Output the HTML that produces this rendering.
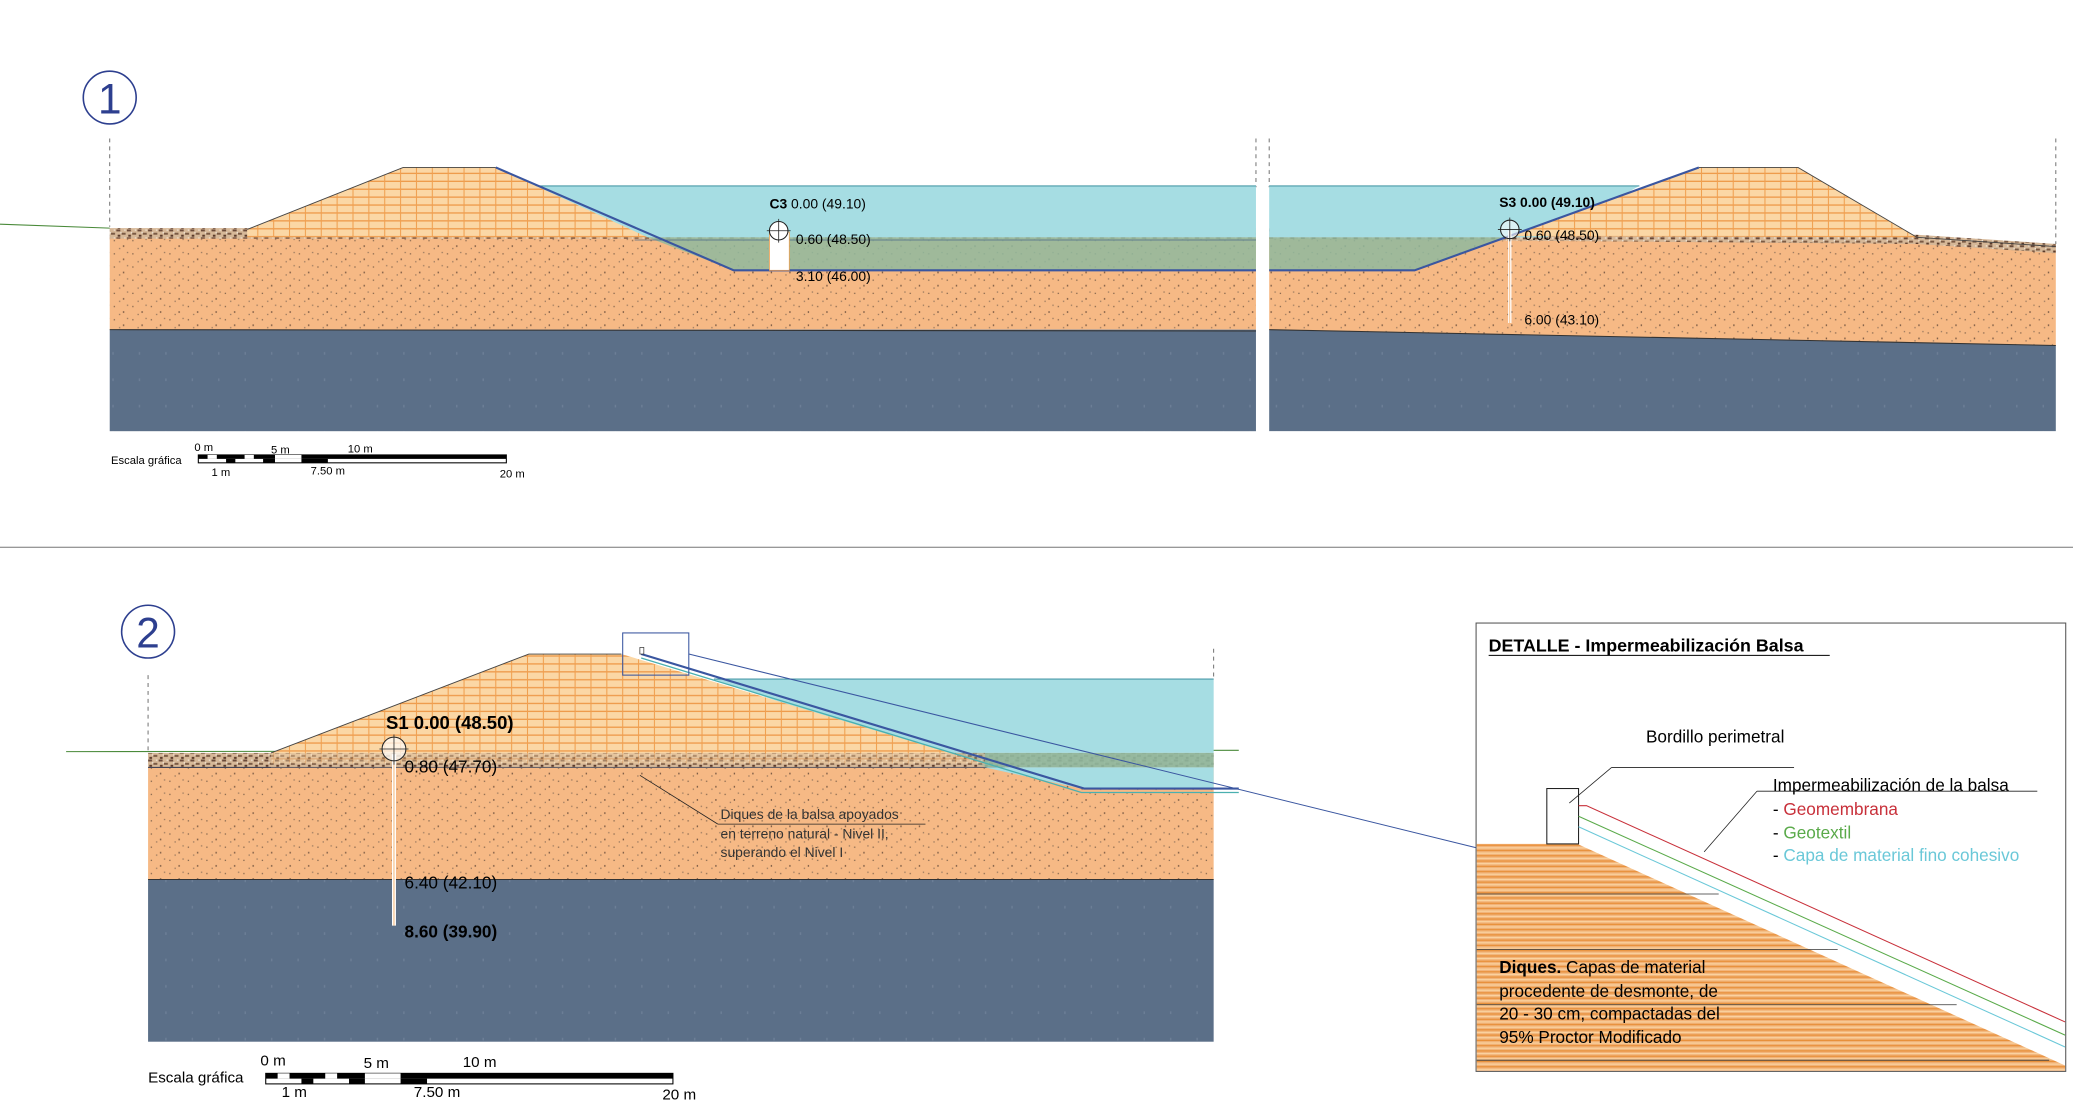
<!DOCTYPE html>
<html><head><meta charset="utf-8"><style>
html,body{margin:0;padding:0;background:#fff;}
svg{display:block;}
text{font-family:"Liberation Sans",sans-serif;}
</style></head><body>
<svg width="2073" height="1105" viewBox="0 0 1568 838" preserveAspectRatio="none" xmlns="http://www.w3.org/2000/svg">
<defs>
<pattern id="soil" width="14" height="10" patternUnits="userSpaceOnUse">
<rect width="14" height="10" fill="#f6b985"/>
<rect x="2" y="2" width="1" height="1" fill="#8a6a50"/>
<rect x="9" y="6" width="1" height="1.3" fill="#7a5a44"/>
<rect x="6" y="8" width="1" height="1" fill="#9a7a60"/>
<rect x="12" y="1" width="1" height="1" fill="#9a7a60"/>
</pattern>
<pattern id="dike" width="12" height="6" patternUnits="userSpaceOnUse">
<rect width="12" height="6" fill="#fbd7a5"/>
<line x1="0" y1="5.5" x2="12" y2="5.5" stroke="#ee9a4a" stroke-width="1"/>
<line x1="3" y1="0" x2="3" y2="6" stroke="#f0a050" stroke-width="0.8"/>
</pattern>
<pattern id="dike2" width="8" height="4" patternUnits="userSpaceOnUse">
<rect width="8" height="4" fill="#f2b47a"/>
<line x1="0" y1="1" x2="8" y2="1" stroke="#e8903a" stroke-width="1"/>
<line x1="0" y1="3" x2="8" y2="3" stroke="#fbd7a5" stroke-width="0.8"/>
</pattern>
<pattern id="grav" width="8" height="6" patternUnits="userSpaceOnUse">
<rect width="8" height="6" fill="#d6b898"/>
<rect x="0" y="0" width="3" height="1.5" fill="#6a4a3a"/>
<rect x="4" y="2.5" width="3" height="1.5" fill="#7a5a44"/>
<rect x="1" y="4" width="2" height="1.5" fill="#5a3a2a"/>
<rect x="6" y="0" width="1" height="1" fill="#f0e6da"/>
<rect x="3" y="2" width="1" height="1" fill="#f0e6da"/>
</pattern>
<pattern id="dark" width="20" height="20" patternUnits="userSpaceOnUse">
<rect width="20" height="20" fill="#5b6f88"/>
<rect x="5" y="7" width="1" height="2" fill="#6e8098"/>
</pattern>
</defs>

<!-- ===== Panel 1 ===== -->
<circle cx="83" cy="74" r="20" fill="#fff" stroke="#2d3f8f" stroke-width="1.2"/>
<text x="83" y="86" font-size="32" fill="#2d3f8f" text-anchor="middle">1</text>
<line x1="83" y1="105" x2="83" y2="172" stroke="#666" stroke-dasharray="3,3" stroke-width="0.7"/>
<line x1="950" y1="105" x2="950" y2="142" stroke="#666" stroke-dasharray="3,3" stroke-width="0.7"/>
<line x1="960" y1="105" x2="960" y2="142" stroke="#666" stroke-dasharray="3,3" stroke-width="0.7"/>
<line x1="1555" y1="105" x2="1555" y2="185" stroke="#666" stroke-dasharray="3,3" stroke-width="0.7"/>
<line x1="0" y1="170" x2="83" y2="173" stroke="#4a8a3a" stroke-width="0.8"/>

<rect x="83" y="180" width="867" height="70" fill="url(#soil)"/>
<rect x="83" y="250" width="867" height="77" fill="url(#dark)"/>
<rect x="83" y="173" width="867" height="8" fill="url(#grav)"/>
<line x1="83" y1="250" x2="950" y2="251" stroke="#333" stroke-width="0.8"/>
<polygon points="400,141 950,141 950,180 480,180" fill="#a6dde3"/>
<line x1="400" y1="141" x2="950" y2="141" stroke="#4a9aa8" stroke-width="0.8"/>
<polygon points="490,180 950,180 950,205 555,205" fill="#8fb89e" opacity="0.85"/>
<line x1="480" y1="182" x2="950" y2="182" stroke="#4a6a8a" stroke-width="0.6"/>
<polygon points="187,174 305,127 375,127 490,180 187,180" fill="url(#dike)"/>
<polyline points="187,174 305,127 375,127" fill="none" stroke="#444" stroke-width="0.7"/>
<polyline points="375,127 555,205 950,205" fill="none" stroke="#3a56a0" stroke-width="1.6"/>
<rect x="582" y="176" width="15" height="29" fill="#fff" stroke="#f0a050" stroke-width="0.6"/>
<circle cx="589" cy="175" r="7" fill="#fff" stroke="#222" stroke-width="0.8"/>
<line x1="589" y1="166" x2="589" y2="184" stroke="#222" stroke-width="0.6"/>
<line x1="580" y1="175" x2="598" y2="175" stroke="#222" stroke-width="0.6"/>
<text x="582" y="158" font-size="10.5"><tspan font-weight="bold">C3</tspan> 0.00 (49.10)</text>
<text x="602" y="185" font-size="10.5">0.60 (48.50)</text>
<text x="602" y="213" font-size="10.5">3.10 (46.00)</text>

<polygon points="960,180 1555,185 1555,262 960,250" fill="url(#soil)"/>
<polygon points="960,250 1555,262 1555,327 960,327" fill="url(#dark)"/>
<polygon points="960,173 1450,178 1555,185 1555,192 1450,185 960,181" fill="url(#grav)"/>
<line x1="960" y1="250" x2="1555" y2="262" stroke="#333" stroke-width="0.8"/>
<polygon points="960,141 1240,141 1170,180 960,180" fill="#a6dde3"/>
<line x1="960" y1="141" x2="1240" y2="141" stroke="#4a9aa8" stroke-width="0.8"/>
<polygon points="960,180 1140,180 1070,205 960,205" fill="#8fb89e" opacity="0.85"/>
<polygon points="1140,179 1285,127 1360,127 1450,180" fill="url(#dike)"/>
<polyline points="1285,127 1360,127 1450,180 1555,187" fill="none" stroke="#444" stroke-width="0.7"/>
<polyline points="960,205 1070,205 1285,127" fill="none" stroke="#3a56a0" stroke-width="1.6"/>
<line x1="1142" y1="175" x2="1142" y2="245" stroke="#fff" stroke-width="2.5"/>
<line x1="1142" y1="175" x2="1142" y2="245" stroke="#f0a050" stroke-width="0.5"/>
<circle cx="1142" cy="174" r="7" fill="#fff" fill-opacity="0.6" stroke="#222" stroke-width="0.8"/>
<line x1="1142" y1="165" x2="1142" y2="183" stroke="#222" stroke-width="0.6"/>
<line x1="1133" y1="174" x2="1151" y2="174" stroke="#222" stroke-width="0.6"/>
<text x="1134" y="157" font-size="10.5" font-weight="bold">S3 0.00 (49.10)</text>
<text x="1153" y="182" font-size="10.5">0.60 (48.50)</text>
<text x="1153" y="246" font-size="10.5">6.00 (43.10)</text>

<text x="84" y="352" font-size="8.5">Escala gráfica</text>
<text x="147" y="342" font-size="8.5">0 m</text>
<text x="205" y="344" font-size="8.5">5 m</text>
<text x="263" y="343" font-size="8.5">10 m</text>
<text x="160" y="361" font-size="8.5">1 m</text>
<text x="235" y="360" font-size="8.5">7.50 m</text>
<text x="378" y="362" font-size="8.5">20 m</text>
<rect x="150" y="345" width="233" height="6" fill="#fff" stroke="#000" stroke-width="0.8"/>
<rect x="150" y="345" width="233" height="3" fill="#000"/>
<rect x="157" y="345" width="7" height="3" fill="#fff"/><rect x="171" y="348" width="7" height="3" fill="#000"/>
<rect x="185" y="345" width="7" height="3" fill="#fff"/><rect x="199" y="348" width="9" height="3" fill="#000"/>
<rect x="208" y="345" width="20" height="3" fill="#fff"/><rect x="228" y="348" width="20" height="3" fill="#000"/>

<line x1="0" y1="415" x2="1568" y2="415" stroke="#777" stroke-width="0.8"/>

<!-- ===== Panel 2 ===== -->
<circle cx="112" cy="479" r="20" fill="#fff" stroke="#2d3f8f" stroke-width="1.2"/>
<text x="112" y="491" font-size="32" fill="#2d3f8f" text-anchor="middle">2</text>
<line x1="112" y1="512" x2="112" y2="571" stroke="#666" stroke-dasharray="3,3" stroke-width="0.7"/>
<line x1="918" y1="492" x2="918" y2="515" stroke="#666" stroke-dasharray="3,3" stroke-width="0.7"/>
<line x1="50" y1="570" x2="937" y2="569" stroke="#4a8a3a" stroke-width="0.8"/>

<rect x="112" y="582" width="806" height="85" fill="url(#soil)"/>
<rect x="112" y="667" width="806" height="123" fill="url(#dark)"/>
<rect x="112" y="571" width="806" height="11" fill="url(#grav)"/>
<line x1="112" y1="667" x2="918" y2="667" stroke="#333" stroke-width="0.8"/>
<line x1="112" y1="582" x2="760" y2="582" stroke="#445" stroke-width="0.8"/>
<polygon points="540,515 918,515 918,571 700,571" fill="#a6dde3"/>
<line x1="540" y1="515" x2="918" y2="515" stroke="#4a9aa8" stroke-width="0.8"/>
<polygon points="720,571 918,571 918,582 745,582" fill="#8fb89e" opacity="0.9"/>
<polygon points="745,582 918,582 918,598 818,598" fill="#a6dde3"/>
<polygon points="205,571 400,496 470,496 745,579 205,579" fill="url(#dike)"/>
<rect x="205" y="571" width="540" height="11" fill="url(#grav)" opacity="0.6"/>
<polyline points="205,571 400,496 470,496" fill="none" stroke="#444" stroke-width="0.7"/>
<polyline points="485,496 820,598 937,598" fill="none" stroke="#3a56a0" stroke-width="1.6"/>
<polyline points="485,499 818,601 937,601" fill="none" stroke="#4ab0b0" stroke-width="1"/>
<rect x="471" y="480" width="50" height="32" fill="none" stroke="#3a56a0" stroke-width="0.8"/>
<rect x="484" y="491" width="3" height="5" fill="#fff" stroke="#222" stroke-width="0.5"/>
<line x1="521" y1="496" x2="1117" y2="643" stroke="#3a56a0" stroke-width="0.8"/>
<line x1="298" y1="572" x2="298" y2="702" stroke="#fff" stroke-width="3"/>
<line x1="298" y1="572" x2="298" y2="702" stroke="#f0a050" stroke-width="0.6"/>
<circle cx="298" cy="568" r="9" fill="#fff" fill-opacity="0.7" stroke="#222" stroke-width="0.8"/>
<line x1="298" y1="557" x2="298" y2="580" stroke="#222" stroke-width="0.6"/>
<line x1="287" y1="568" x2="309" y2="568" stroke="#222" stroke-width="0.6"/>
<text x="292" y="553" font-size="14" font-weight="bold">S1 0.00 (48.50)</text>
<text x="306" y="586" font-size="13">0.80 (47.70)</text>
<text x="306" y="674" font-size="13">6.40 (42.10)</text>
<text x="306" y="711" font-size="13" font-weight="bold">8.60 (39.90)</text>
<line x1="484" y1="588" x2="543" y2="625" stroke="#222" stroke-width="0.6"/>
<line x1="543" y1="625" x2="700" y2="625" stroke="#222" stroke-width="0.6"/>
<text x="545" y="621" font-size="10.5" fill="#333">Diques de la balsa apoyados</text>
<text x="545" y="636" font-size="10.5" fill="#333">en terreno natural - Nivel II,</text>
<text x="545" y="650" font-size="10.5" fill="#333">superando el Nivel I</text>

<text x="112" y="821" font-size="11.5">Escala gráfica</text>
<text x="197" y="808" font-size="11.5">0 m</text>
<text x="275" y="810" font-size="11.5">5 m</text>
<text x="350" y="809" font-size="11.5">10 m</text>
<text x="213" y="832" font-size="11.5">1 m</text>
<text x="313" y="832" font-size="11.5">7.50 m</text>
<text x="501" y="834" font-size="11.5">20 m</text>
<rect x="201" y="814" width="308" height="8" fill="#fff" stroke="#000" stroke-width="0.8"/>
<rect x="201" y="814" width="308" height="4" fill="#000"/>
<rect x="210" y="814" width="9" height="4" fill="#fff"/><rect x="228" y="818" width="9" height="4" fill="#000"/>
<rect x="246" y="814" width="9" height="4" fill="#fff"/><rect x="264" y="818" width="12" height="4" fill="#000"/>
<rect x="276" y="814" width="27" height="4" fill="#fff"/><rect x="303" y="818" width="20" height="4" fill="#000"/>

<!-- ===== Detail box ===== -->
<rect x="1116.5" y="472.5" width="446" height="340" fill="#fff" stroke="#555" stroke-width="0.8"/>
<text x="1126" y="494" font-size="13.5" font-weight="bold">DETALLE - Impermeabilización Balsa</text>
<line x1="1126" y1="497" x2="1384" y2="497" stroke="#000" stroke-width="0.8"/>
<polygon points="1117,640 1193,640 1562,808 1562,812 1117,812" fill="url(#dike2)"/>
<line x1="1117" y1="678" x2="1300" y2="678" stroke="#333" stroke-width="0.6"/>
<line x1="1117" y1="720" x2="1390" y2="720" stroke="#333" stroke-width="0.6"/>
<line x1="1117" y1="762" x2="1480" y2="762" stroke="#333" stroke-width="0.6"/>
<line x1="1117" y1="804" x2="1550" y2="804" stroke="#333" stroke-width="0.6"/>
<rect x="1170" y="598" width="24" height="42" fill="#fff" stroke="#222" stroke-width="0.8"/>
<polyline points="1194,611 1200,611 1562,775" fill="none" stroke="#c8303a" stroke-width="0.8"/>
<polyline points="1194,619 1562,785" fill="none" stroke="#5aaa4a" stroke-width="0.8"/>
<polyline points="1194,627 1562,794" fill="none" stroke="#6ac8d8" stroke-width="0.8"/>
<line x1="1187" y1="609" x2="1219" y2="582" stroke="#222" stroke-width="0.6"/>
<line x1="1219" y1="582" x2="1357" y2="582" stroke="#222" stroke-width="0.6"/>
<text x="1245" y="563" font-size="13">Bordillo perimetral</text>
<line x1="1289" y1="646" x2="1329" y2="600" stroke="#222" stroke-width="0.6"/>
<line x1="1329" y1="600" x2="1541" y2="600" stroke="#222" stroke-width="0.6"/>
<text x="1341" y="600" font-size="13">Impermeabilización de la balsa</text>
<text x="1341" y="618" font-size="13">- <tspan fill="#c8303a">Geomembrana</tspan></text>
<text x="1341" y="636" font-size="13">- <tspan fill="#5aaa4a">Geotextil</tspan></text>
<text x="1341" y="653" font-size="13">- <tspan fill="#6ac8d8">Capa de material fino cohesivo</tspan></text>
<text x="1134" y="738" font-size="13"><tspan font-weight="bold">Diques.</tspan> Capas de material</text>
<text x="1134" y="756" font-size="13">procedente de desmonte, de</text>
<text x="1134" y="773" font-size="13">20 - 30 cm, compactadas del</text>
<text x="1134" y="791" font-size="13">95% Proctor Modificado</text>
</svg>
</body></html>
